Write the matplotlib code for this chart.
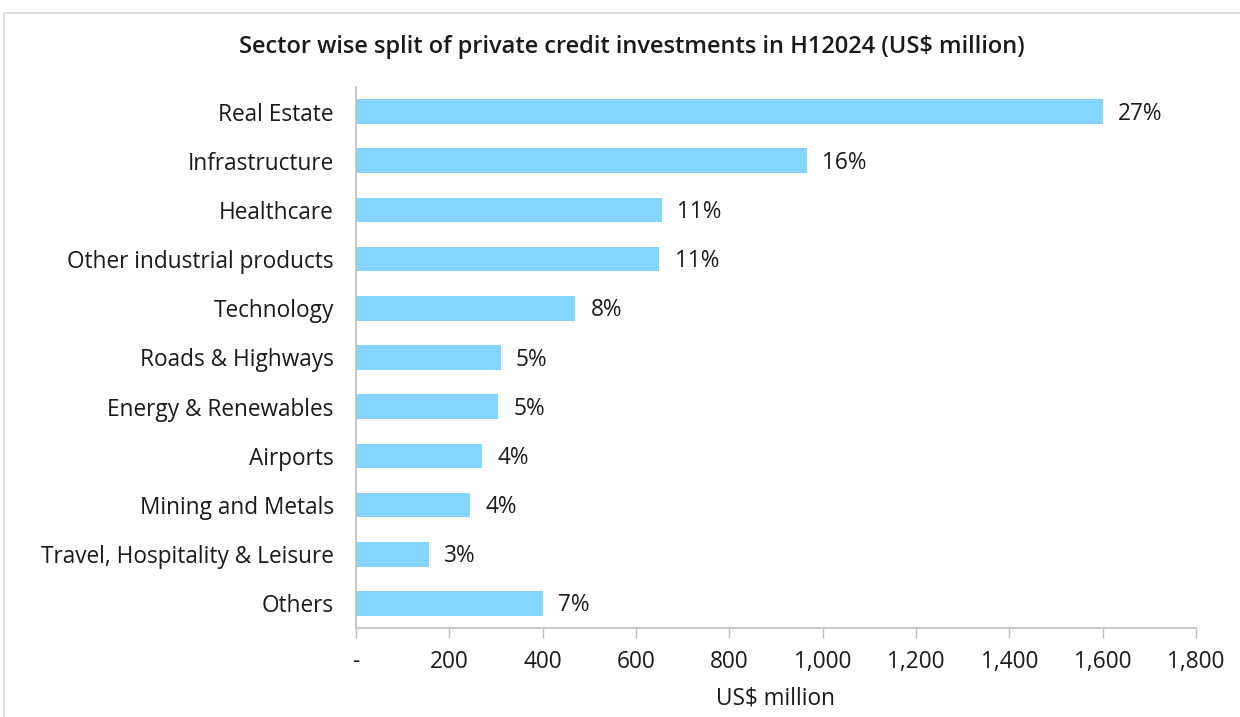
import matplotlib
matplotlib.use("Agg")
import matplotlib.pyplot as plt
from matplotlib.patches import Rectangle
from matplotlib.ticker import FuncFormatter

sectors = [
    "Real Estate", "Infrastructure", "Healthcare", "Other industrial products",
    "Technology", "Roads & Highways", "Energy & Renewables", "Airports",
    "Mining and Metals", "Travel, Hospitality & Leisure", "Others",
]
values = [1600, 966, 656, 650, 470, 310, 304, 270, 244, 156, 400]
shares = ["27%", "16%", "11%", "11%", "8%", "5%", "5%", "4%", "4%", "3%", "7%"]
x_ticks = [0, 200, 400, 600, 800, 1000, 1200, 1400, 1600, 1800]

plt.rcParams["font.family"] = ["Open Sans", "DejaVu Sans"]
text_color = "#1a1a1a"
bar_color = "#85D5FF"
spine_color = "#bfbfbf"
fs = 16.3

fig = plt.figure(figsize=(12.4, 7.17), dpi=100)
fig.patch.set_facecolor("white")
fig.patches.append(Rectangle((4 / 1240, -0.1), 1.2, 1.1 - 13 / 717,
                             transform=fig.transFigure, fill=False,
                             edgecolor="#d9d9d9", linewidth=1.2))

ax = fig.add_axes([356 / 1240, 1 - 628 / 717, (1196 - 356) / 1240, (628 - 87) / 717])

n = len(sectors)
ypos = list(range(n - 1, -1, -1))
ax.barh(ypos, values, height=0.5, color=bar_color, edgecolor="none")

for y, v, s in zip(ypos, values, shares):
    ax.annotate(s, xy=(v, y), xytext=(11, -1.5), textcoords="offset points",
                va="center", ha="left", fontsize=fs, color=text_color)

ax.set_xlim(0, 1800)
ax.set_ylim(-0.5, n - 0.5)
ax.set_yticks(ypos)
ax.set_yticklabels(sectors, fontsize=fs, color=text_color)
ax.tick_params(axis="y", length=0, pad=16)

ax.set_xticks(x_ticks)
ax.xaxis.set_major_formatter(FuncFormatter(lambda v, p: "-" if v == 0 else f"{int(v):,}"))
ax.tick_params(axis="x", length=7, width=1, color=spine_color, labelsize=fs,
               labelcolor=text_color, pad=9)
ax.set_xlabel("US$ million", fontsize=fs, color=text_color, labelpad=9)

for side in ("top", "right"):
    ax.spines[side].set_visible(False)
for side in ("left", "bottom"):
    ax.spines[side].set_color(spine_color)
    ax.spines[side].set_linewidth(1.2)

fig.text(632 / 1240, 1 - 47 / 717,
         "Sector wise split of private credit investments in H12024 (US$ million)",
         ha="center", va="center", fontsize=17, fontweight="semibold", color=text_color)

fig.savefig("out.png", dpi=100, facecolor="white")
